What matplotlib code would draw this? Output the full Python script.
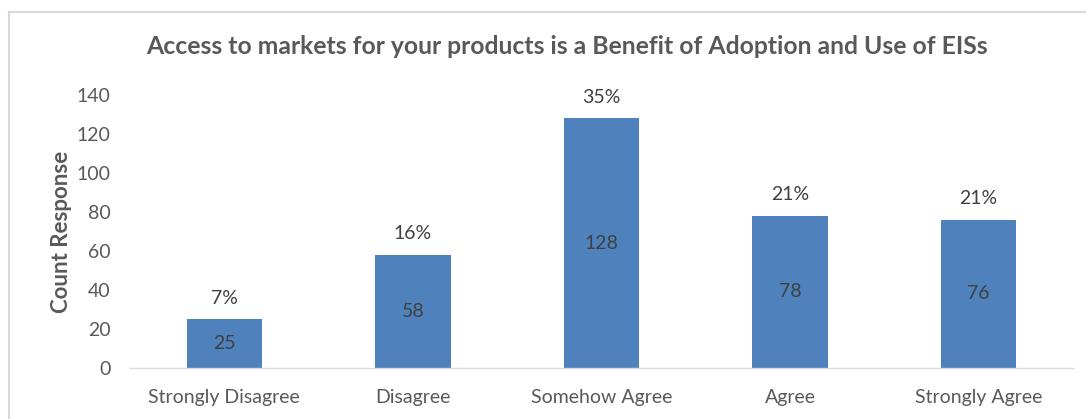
import matplotlib.pyplot as plt
from matplotlib.lines import Line2D

plt.rcParams.update({
    "font.family": ["Lato", "DejaVu Sans"],
    "text.color": "#595959",
    "axes.labelcolor": "#595959",
    "xtick.color": "#595959",
    "ytick.color": "#595959",
})

categories = ["Strongly Disagree", "Disagree", "Somehow Agree", "Agree", "Strongly Agree"]
counts = [25, 58, 128, 78, 76]
y_ticks = [0, 20, 40, 60, 80, 100, 120, 140]

BAR_COLOR = "#4F81BD"
FRAME_COLOR = "#D9D9D9"

total = sum(counts)
percents = [round(100 * c / total) for c in counts]

fig = plt.figure(figsize=(10.86, 4.19), dpi=100)
ax = fig.add_axes([0.1197, 0.1217, 0.8683, 0.6516])

x = range(len(categories))
bars = ax.bar(x, counts, width=0.4, color=BAR_COLOR, zorder=2)

for rect, c, p in zip(bars, counts, percents):
    cx = rect.get_x() + rect.get_width() / 2
    ax.text(cx, c / 2, str(c), ha="center", va="center", fontsize=14, color="#404040")
    ax.annotate(f"{p}%", (cx, c), xytext=(0, 9), textcoords="offset points",
                ha="center", va="bottom", fontsize=14, color="#404040")

ax.set_xlim(-0.5, len(categories) - 0.5)
ax.set_ylim(0, 140)
ax.set_yticks(y_ticks)
ax.set_xticks(list(x))
ax.set_xticklabels(categories, fontsize=14)
ax.tick_params(axis="y", labelsize=14, length=0, pad=14)
ax.tick_params(axis="x", length=0, pad=15)

for side in ("top", "right", "left"):
    ax.spines[side].set_visible(False)
ax.spines["bottom"].set_color(FRAME_COLOR)
ax.spines["bottom"].set_linewidth(1.0)

ax.set_ylabel("Count Response", fontsize=16, fontweight="bold", labelpad=3)

fig.text(0.522, 0.888, "Access to markets for your products is a Benefit of Adoption and Use of EISs",
         ha="center", va="center", fontsize=17.8, fontweight="bold", color="#595959")

# light outer frame (top and left edges)
fig.add_artist(Line2D([9 / 1086, 1.0], [1 - 12 / 419] * 2, transform=fig.transFigure,
                      color=FRAME_COLOR, linewidth=1.5))
fig.add_artist(Line2D([9 / 1086] * 2, [0.0, 1 - 12 / 419], transform=fig.transFigure,
                      color=FRAME_COLOR, linewidth=1.5))

fig.savefig("out.png", dpi=100)
